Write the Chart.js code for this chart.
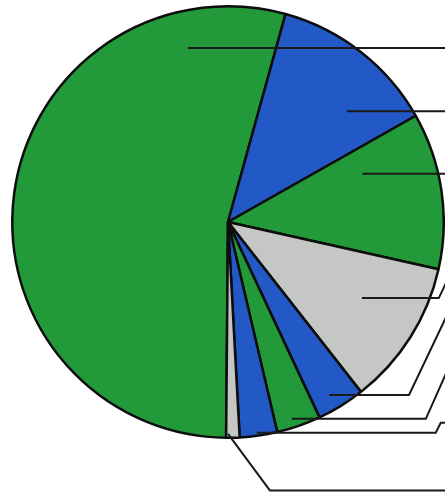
<!DOCTYPE html>
<html>
<head>
<meta charset="utf-8">
<script src="https://cdn.jsdelivr.net/npm/chart.js@4/dist/chart.umd.min.js"></script>
<style>
  html, body { margin: 0; padding: 0; background: #ffffff; }
  #wrap { width: 445px; height: 493px; position: relative; }
  canvas { display: block; }
</style>
</head>
<body>
<div id="wrap"><canvas id="c" width="445" height="493"></canvas></div>
<script>
// ---- data (percent of the whole) ----
const categories = ["Slice 1", "Slice 2", "Slice 3", "Slice 4", "Slice 5", "Slice 6", "Slice 7", "Slice 8"];
const shares = [54.1, 12.5, 11.7, 10.9, 3.6, 3.3, 2.8, 1.0];

// ---- styles ----
const GREEN = "#229a3a";
const BLUE = "#2259c6";
const GRAY = "#c4c7c4";
const sliceColors = [GREEN, BLUE, GREEN, GRAY, BLUE, GREEN, BLUE, GRAY];

// leader-line styling per slice: anchor position inside the slice (t = fraction
// of the slice's angle, r = fraction of the radius), then the route to the right edge.
// kink: x of the bend as fraction of radius from centre (null = straight to edge)
// rise: vertical travel of the bend as fraction of radius (negative = upwards)
const leaderStyle = [
  { t: 0.854, r: 0.828, kink: null },
  { t: 0.70,  r: 0.753, kink: null },
  { t: 0.232, r: 0.662, kink: null },
  { t: 0.431, r: 0.714, kink: 0.977, rise: -0.30, slope: 2.1 },
  { t: 0.595, r: 0.929, kink: 0.839, rise: -0.50, slope: 2.1 },
  { t: 0.60,  r: 0.959, kink: 0.917, rise: -0.30, slope: 2.25 },
  { t: 0.535, r: 0.986, kink: 0.963, rise: -0.046, slope: 2.0 },
  { t: 0.86,  r: 0.982, drop: 0.262, dropDx: 0.194 }
];

const leaderPlugin = {
  id: "leaders",
  afterDatasetsDraw(chart) {
    const ctx = chart.ctx;
    const meta = chart.getDatasetMeta(0);
    const W = chart.width;
    ctx.save();
    ctx.strokeStyle = "#1a1a1a";
    ctx.lineWidth = 2;
    ctx.lineJoin = "miter";
    meta.data.forEach((arc, i) => {
      const s = leaderStyle[i];
      if (!s) return;
      const p = arc.getProps(["x", "y", "startAngle", "endAngle", "outerRadius"], true);
      const R = p.outerRadius;
      const a = p.startAngle + s.t * (p.endAngle - p.startAngle);
      const x0 = p.x + Math.cos(a) * R * s.r;
      const y0 = p.y + Math.sin(a) * R * s.r;
      ctx.beginPath();
      ctx.moveTo(x0, y0);
      if (s.drop !== undefined) {
        const x1 = x0 + s.dropDx * R;
        const y1 = y0 + s.drop * R;
        ctx.lineTo(x1, y1);
        ctx.lineTo(W + 10, y1);
      } else if (s.kink === null) {
        ctx.lineTo(W + 10, y0);
      } else {
        const kx = p.x + s.kink * R;
        ctx.lineTo(kx, y0);
        const dy = s.rise * R;
        const x2 = kx + Math.abs(dy) / s.slope;
        const y2 = y0 + dy;
        ctx.lineTo(x2, y2);
        ctx.lineTo(W + 10, y2);
      }
      ctx.stroke();
    });
    ctx.restore();
  }
};

new Chart(document.getElementById("c"), {
  type: "pie",
  data: {
    labels: categories,
    datasets: [{
      data: shares,
      backgroundColor: sliceColors,
      borderColor: "#0d0d0d",
      borderWidth: 2.5
    }]
  },
  options: {
    responsive: false,
    devicePixelRatio: 1,
    animation: false,
    rotation: 180.5,
    layout: { padding: { left: 11, right: 0, top: 5, bottom: 54 } },
    plugins: {
      legend: { display: false },
      tooltip: { enabled: false },
      title: { display: false }
    }
  },
  plugins: [leaderPlugin]
});
</script>
</body>
</html>
